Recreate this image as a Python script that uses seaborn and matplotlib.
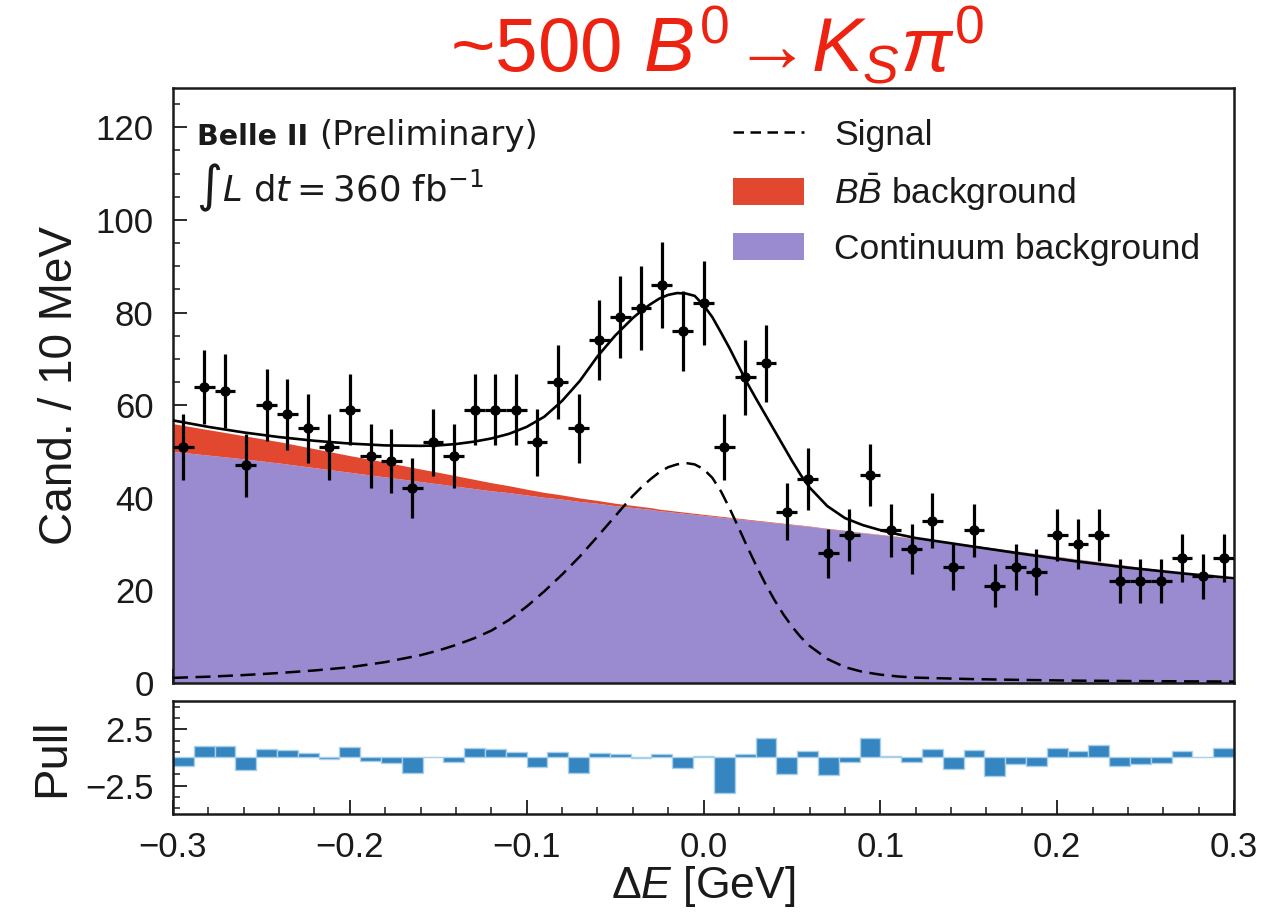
import numpy as np
import pandas as pd
import matplotlib
matplotlib.use("Agg")
import matplotlib.pyplot as plt
import seaborn as sns
from matplotlib.ticker import MultipleLocator, FixedLocator
from matplotlib.patches import Patch
from matplotlib.lines import Line2D

# ---------------- data ----------------
de_range = [-0.3, 0.3]
n_bins = 51

counts = [51, 64, 63, 47, 60, 58, 55, 51, 59, 49, 48, 42, 52, 49, 59, 59, 59, 52,
          65, 55, 74, 79, 81, 86, 76, 82, 51, 66, 69, 37, 44, 28, 32, 45,
          33, 29, 35, 25, 33, 21, 25, 24, 32, 30, 32, 22, 22, 22, 27, 23, 27]

pulls = [-0.77, 0.98, 0.98, -1.1, 0.77, 0.63, 0.36, -0.15, 0.92, -0.33, -0.48, -1.4,
         0.05, -0.39, 0.83, 0.71, 0.48, -0.8, 0.5, -1.4, 0.36, 0.27, -0.05, 0.3,
         -0.92, 0.1, -3.1, 0.27, 1.73, -1.46, 0.6, -1.52, -0.36, 1.76, 0.1, -0.39,
         0.74, -0.98, 0.63, -1.67, -0.54, -0.71, 0.86, 0.6, 1.07, -0.71, -0.54,
         -0.45, 0.6, 0.05, 0.83]

model_x = [-0.30, -0.28, -0.26, -0.24, -0.22, -0.20, -0.18, -0.16,
           -0.15, -0.14, -0.13, -0.12, -0.11, -0.10, -0.09, -0.08, -0.07, -0.06, -0.05,
           -0.04, -0.035, -0.03, -0.025, -0.02, -0.015, -0.01, -0.005, 0.0, 0.005,
           0.01, 0.015, 0.02, 0.025, 0.03, 0.035, 0.04, 0.045, 0.05, 0.055,
           0.06, 0.07, 0.08, 0.09, 0.10, 0.11, 0.12,
           0.15, 0.18, 0.21, 0.24, 0.27, 0.30]

model_total = [56.7, 55.3, 54.1, 53.1, 52.3, 51.7, 51.3, 51.2,
               51.3, 51.6, 52.1, 52.8, 53.8, 55.3, 57.5, 60.9, 65.2, 70.5, 75.0,
               78.8, 80.4, 81.8, 83.0, 83.8, 84.2, 84.1, 83.6, 81.6, 79.0,
               75.6, 72.1, 68.3, 64.6, 61.2, 57.9, 54.6, 51.3, 48.0, 44.9,
               42.2, 38.2, 35.6, 34.1, 33.0, 32.1, 31.3,
               29.6, 27.9, 26.3, 24.9, 23.7, 22.6]

model_signal = [1.1, 1.35, 1.7, 2.15, 2.7, 3.4, 4.5, 6.0,
                7.0, 8.2, 9.6, 11.3, 13.6, 16.5, 19.8, 23.4, 27.3, 31.6, 36.0,
                40.4, 42.3, 44.0, 45.5, 46.6, 47.2, 47.5, 47.2, 46.2, 44.3,
                41.3, 37.5, 33.4, 29.2, 25.2, 21.4, 18.0, 14.9, 12.2, 9.9,
                8.0, 5.2, 3.4, 2.4, 1.8, 1.4, 1.15,
                0.85, 0.65, 0.5, 0.42, 0.35, 0.3]

model_bbbar = [6.0, 5.5, 5.0, 4.6, 4.1, 3.6, 3.2, 2.7,
               2.5, 2.25, 2.0, 1.75, 1.5, 1.25, 1.05, 0.9, 0.75, 0.62, 0.52,
               0.44, 0.4, 0.37, 0.34, 0.31, 0.28, 0.26, 0.24, 0.22, 0.2,
               0.19, 0.18, 0.16, 0.15, 0.14, 0.13, 0.12, 0.11, 0.1, 0.1,
               0.09, 0.09, 0.08, 0.08, 0.08, 0.07, 0.07,
               0.06, 0.06, 0.05, 0.05, 0.05, 0.05]

model_continuum = [50.0, 49.2, 48.4, 47.5, 46.5, 45.5, 44.5, 43.5,
                   43.0, 42.5, 42.0, 41.5, 41.1, 40.6, 40.1, 39.7, 39.2, 38.8, 38.3,
                   37.9, 37.7, 37.5, 37.2, 37.0, 36.8, 36.6, 36.4, 36.2, 36.0,
                   35.8, 35.6, 35.4, 35.2, 35.0, 34.8, 34.6, 34.4, 34.2, 34.0,
                   33.8, 33.3, 32.9, 32.4, 32.0, 31.6, 31.1,
                   29.8, 28.3, 26.8, 25.3, 23.8, 22.3]

main_yticks = [0, 20, 40, 60, 80, 100, 120]
x_ticks = [-0.3, -0.2, -0.1, 0.0, 0.1, 0.2, 0.3]
x_ticklabels = ["\u22120.3", "\u22120.2", "\u22120.1", "0.0", "0.1", "0.2", "0.3"]
pull_ticks = [-2.5, 2.5]
pull_ticklabels = ["\u22122.5", "2.5"]
pull_minor = [-4.5, -3.5, -1.5, -0.5, 0.5, 1.5, 3.5, 4.5]

legend_labels = ["Signal", r"$B\bar{B}$ background", "Continuum background"]

# ---------------- style ----------------
RED = "#e2472f"
PURPLE = "#9a8ad0"
BLUE = "#3585c0"
LIGHTBLUE = "#a9d0ea"
INK = "#1a1a1a"

sns.set_style("ticks")
plt.rcParams["font.family"] = ["Liberation Sans", "DejaVu Sans"]
plt.rcParams["mathtext.fontset"] = "custom"
plt.rcParams["mathtext.rm"] = "Liberation Sans"
plt.rcParams["mathtext.it"] = "Liberation Sans:italic"
plt.rcParams["mathtext.bf"] = "Liberation Sans:bold"
plt.rcParams["axes.edgecolor"] = INK
plt.rcParams["axes.linewidth"] = 1.8

fig = plt.figure(figsize=(12.74, 9.15), dpi=100)
ax = fig.add_axes([0.1358, 0.2536, 0.8328, 0.6503])
axp = fig.add_axes([0.1358, 0.1104, 0.8328, 0.1235])

edges = np.linspace(de_range[0], de_range[1], n_bins + 1)
centers = 0.5 * (edges[:-1] + edges[1:])
width = edges[1] - edges[0]

cont = np.array(model_continuum)
bb = np.array(model_bbbar)
ax.fill_between(model_x, 0, cont, color=PURPLE, lw=0, zorder=1)
ax.fill_between(model_x, cont, cont + bb, color=RED, lw=0, zorder=1)

df = pd.DataFrame({"x": model_x, "total": model_total, "signal": model_signal})
sns.lineplot(data=df, x="x", y="signal", ax=ax, color="black", lw=1.8,
             linestyle=(0, (6, 3)), zorder=3)
sns.lineplot(data=df, x="x", y="total", ax=ax, color="black", lw=1.9, zorder=4)

cnt = np.array(counts, dtype=float)
ax.errorbar(centers, cnt, yerr=np.sqrt(cnt), xerr=width / 2, fmt="o", ms=6.5,
            color="black", ecolor="black", elinewidth=2.3, capsize=0, zorder=5)

ax.set_xlim(de_range)
ax.set_ylim(0, 128.5)
ax.set_yticks(main_yticks)
ax.yaxis.set_minor_locator(MultipleLocator(5))
ax.set_xticks(x_ticks)
ax.xaxis.set_minor_locator(MultipleLocator(0.02))
ax.tick_params(axis="both", which="both", direction="in", top=False, right=False,
               colors=INK)
ax.tick_params(axis="both", which="major", length=10, width=1.3, labelsize=25)
ax.tick_params(axis="both", which="minor", length=5, width=1.1)
ax.tick_params(axis="y", pad=14)
ax.tick_params(axis="x", labelbottom=False)
ax.set_xlabel("")
ax.set_ylabel("Cand. / 10 MeV", fontsize=33, labelpad=10, color=INK)

# pull panel
axp.bar(centers, pulls, width=width, color=BLUE, edgecolor=LIGHTBLUE, lw=1.0)
axp.set_xlim(de_range)
axp.set_ylim(-5, 5)
axp.set_yticks(pull_ticks)
axp.set_yticklabels(pull_ticklabels)
axp.yaxis.set_minor_locator(FixedLocator(pull_minor))
axp.set_xticks(x_ticks)
axp.set_xticklabels(x_ticklabels)
axp.xaxis.set_minor_locator(MultipleLocator(0.02))
axp.tick_params(axis="both", which="both", direction="in", top=False, right=False,
                colors=INK)
axp.tick_params(axis="both", which="major", length=10, width=1.3, labelsize=25)
axp.tick_params(axis="both", which="minor", length=5, width=1.1)
axp.tick_params(axis="x", pad=12)
axp.tick_params(axis="y", pad=14)
axp.set_ylabel("Pull", fontsize=34, labelpad=8, color=INK)
axp.set_xlabel(r"$\Delta \mathit{E}$ [GeV]", fontsize=32, labelpad=0, color=INK)

# texts
ax.text(0.0226, 0.904, "Belle II", transform=ax.transAxes, fontsize=20.5,
        family="DejaVu Sans", fontweight="bold", va="baseline", color=INK)
ax.text(0.1375, 0.904, "(Preliminary)", transform=ax.transAxes,
        fontsize=24.5, family="DejaVu Sans", va="baseline", color=INK)
ax.text(0.0215, 0.809, r"$\int L\ \mathrm{d}t = 360\ \mathrm{fb}^{-1}$",
        transform=ax.transAxes, fontsize=25.5, va="baseline",
        math_fontfamily="dejavusans", color=INK)

handles = [Line2D([], [], color="black", lw=1.8, linestyle=(0, (4.2, 2.6))),
           Patch(facecolor=RED, edgecolor="none"),
           Patch(facecolor=PURPLE, edgecolor="none")]
leg = ax.legend(handles, legend_labels, loc="upper left",
                bbox_to_anchor=(0.528, 0.948), frameon=False, fontsize=25.5,
                handlelength=2.0, handleheight=0.8, handletextpad=0.85,
                labelspacing=0.55, borderpad=0, borderaxespad=0)
for t in leg.get_texts():
    t.set_color(INK)

fig.text(0.563, 0.921,
         r"~500 $B^{\mathit{0}}\!\rightarrow\!K_{S}\pi^{\mathit{0}}$",
         ha="center", va="baseline", fontsize=55, color="#ee2211")

fig.savefig("out.png", dpi=100)
